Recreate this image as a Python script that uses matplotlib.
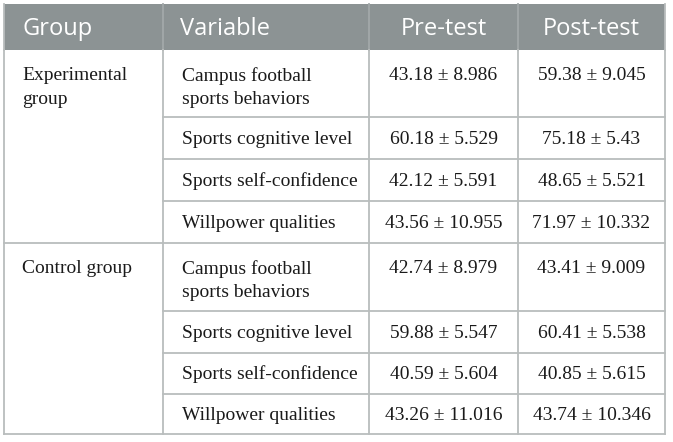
import matplotlib
matplotlib.use("Agg")
import matplotlib.pyplot as plt
from matplotlib.patches import Rectangle

# Table content
headers = ["Group", "Variable", "Pre-test", "Post-test"]
groups = ["Experimental\ngroup", "Control group"]
variables = [
    "Campus football\nsports behaviors",
    "Sports cognitive level",
    "Sports self-confidence",
    "Willpower qualities",
]
pre_means = [[43.18, 60.18, 42.12, 43.56], [42.74, 59.88, 40.59, 43.26]]
pre_sds = [["8.986", "5.529", "5.591", "10.955"], ["8.979", "5.547", "5.604", "11.016"]]
post_means = [[59.38, 75.18, 48.65, 71.97], [43.41, 60.41, 40.85, 43.74]]
post_sds = [["9.045", "5.43", "5.521", "10.332"], ["9.009", "5.538", "5.615", "10.346"]]

# Layout in pixels
W, H = 673, 442
col_x = [4, 163, 369, 518, 665]
header_top, header_bot = 4, 50
row_edges = [[50, 117, 159, 201, 243], [243, 311, 353, 394, 434]]

line_col = "#b9bdbd"
head_col = "#8c9394"
lw = 1.3

fig = plt.figure(figsize=(W / 100, H / 100), dpi=100)
ax = fig.add_axes([0, 0, 1, 1])
ax.set_xlim(0, W)
ax.set_ylim(H, 0)
ax.axis("off")

# header
ax.add_patch(Rectangle((col_x[0], header_top), col_x[-1] - col_x[0],
                       header_bot - header_top, facecolor=head_col, edgecolor="none"))
head_font = dict(family="Open Sans", fontsize=17, color="white", va="center")
hy = (header_top + header_bot) / 2 + 2
ax.text(col_x[0] + 18, hy, headers[0], ha="left", **head_font)
ax.text(col_x[1] + 17, hy, headers[1], ha="left", **head_font)
ax.text((col_x[2] + col_x[3]) / 2, hy, headers[2], ha="center", **head_font)
ax.text((col_x[3] + col_x[4]) / 2, hy, headers[3], ha="center", **head_font)

# header column dividers (slightly lighter)
for x in col_x[1:-1]:
    ax.plot([x, x], [header_top, header_bot], color="#a3a9aa", lw=lw)

body_font = dict(family="Liberation Serif", fontsize=14, color="#1a1a1a")
first_top = 17   # top of first text line from row top
ls = 1.5

for g in range(2):
    edges = row_edges[g]
    # group label starts at top of block
    ax.text(col_x[0] + 18, edges[0] + first_top, groups[g], ha="left", va="top",
            linespacing=ls, **body_font)
    for r, var in enumerate(variables):
        y0, y1 = edges[r], edges[r + 1]
        if "\n" in var:
            ty, va = y0 + first_top, "top"
        else:
            ty, va = (y0 + y1) / 2 + 1, "center"
        ax.text(col_x[1] + 19, ty, var, ha="left", va=va, linespacing=ls, **body_font)
        ax.text((col_x[2] + col_x[3]) / 2, ty,
                f"{pre_means[g][r]:.2f} \u00b1 {pre_sds[g][r]}",
                ha="center", va=va, **body_font)
        ax.text((col_x[3] + col_x[4]) / 2, ty,
                f"{post_means[g][r]:.2f} \u00b1 {post_sds[g][r]}",
                ha="center", va=va, **body_font)
        # inner row separators start at variable column
        if r < len(variables) - 1:
            ax.plot([col_x[1], col_x[-1]], [y1, y1], color=line_col, lw=lw)
    # group separator / bottom border
    ax.plot([col_x[0], col_x[-1]], [edges[-1], edges[-1]], color=line_col, lw=lw)

# vertical lines in body
for x in col_x:
    ax.plot([x, x], [header_bot, row_edges[1][-1]], color=line_col, lw=lw)
ax.plot([col_x[0], col_x[0]], [header_top, header_bot], color=line_col, lw=lw)
ax.plot([col_x[-1], col_x[-1]], [header_top, header_bot], color=line_col, lw=lw)

fig.savefig("out.png", dpi=100)
